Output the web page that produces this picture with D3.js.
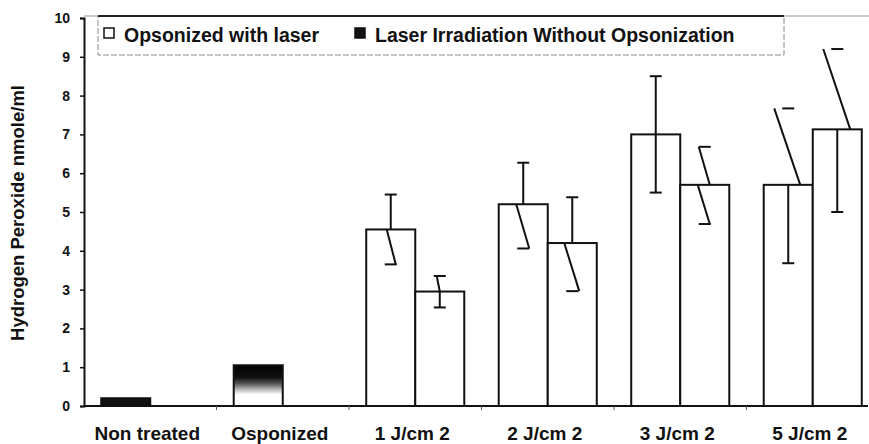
<!DOCTYPE html>
<html>
<head>
<meta charset="utf-8">
<script src="https://cdn.jsdelivr.net/npm/d3@7"></script>
<style>
  body { margin: 0; background: #fff; }
  text { font-family: "Liberation Sans", Arial, sans-serif; font-weight: bold; fill: #111; }
</style>
</head>
<body>
<div id="chart"></div>
<script>
// data
var categories = ["Non treated", "Osponized", "1 J/cm 2", "2 J/cm 2", "3 J/cm 2", "5 J/cm 2"];
var seriesNames = ["Opsonized with laser", "Laser Irradiation Without Opsonization"];
var yTicks = [0, 1, 2, 3, 4, 5, 6, 7, 8, 9, 10];

// control bars (single bar each)
var controlValues = [0.2, 1.05];

// dose groups: 1, 2, 3, 5 J/cm2
var withLaser = [4.55, 5.2, 7.0, 5.7];
var withLaserHigh = [5.45, 6.27, 8.5, 7.67];
var withLaserLow = [3.65, 4.06, 5.5, 3.68];

var withoutOpson = [2.95, 4.2, 5.7, 7.13];
var withoutOpsonHigh = [3.35, 5.38, 6.68, 9.2];
var withoutOpsonLow = [2.54, 2.96, 4.69, 5.0];

// the scanned figure has tilted whiskers; [upper start dx, upper end dx, lower start dx, lower end dx]
var whiskerTilt = [
  [0, 0, -4, 5], [0, -3, 0, 0],
  [0, 0, -7, 6], [0, 0, -8, 7],
  [0, 0, 0, 0], [5, -6, -7, 5],
  [12, -14, 0, 0], [13, -14, 0, 0]
];

var svgWidth = 869, svgHeight = 444;
var svg = d3.select("#chart").append("svg")
  .attr("width", svgWidth)
  .attr("height", svgHeight);

var defs = svg.append("defs");
var grad = defs.append("linearGradient")
  .attr("id", "opsGrad")
  .attr("x1", 0).attr("y1", 0).attr("x2", 0).attr("y2", 1);
[[0, "#000"], [0.3, "#111"], [0.45, "#555"], [0.6, "#bbb"], [0.72, "#fff"], [1, "#fff"]].forEach(s => {
  grad.append("stop").attr("offset", s[0]).attr("stop-color", s[1]);
});

// scales
var x = d3.scaleBand()
  .domain(categories)
  .range([84, 879])
  .paddingInner(0.26)
  .paddingOuter(0.13);

var xSub = d3.scaleBand()
  .domain([0, 1])
  .range([0, x.bandwidth()]);

var y = d3.scaleLinear()
  .domain([0, 10])
  .range([406, 18]);

// top border + legend box
svg.append("line")
  .attr("x1", 84).attr("x2", svgWidth)
  .attr("y1", 16).attr("y2", 16)
  .attr("stroke", "#999").attr("stroke-width", 1);

var legend = svg.append("g").attr("class", "legend");
legend.append("rect")
  .attr("x", 98).attr("y", 16)
  .attr("width", 686).attr("height", 39)
  .attr("fill", "none")
  .attr("stroke", "#888")
  .attr("stroke-dasharray", "6,2")
  .attr("stroke-width", 1);
legend.append("line")
  .attr("x1", 98).attr("x2", 784)
  .attr("y1", 16).attr("y2", 16)
  .attr("stroke", "#222").attr("stroke-width", 2);

var legendX = [104, 355];
seriesNames.forEach((name, i) => {
  legend.append("rect")
    .attr("x", legendX[i]).attr("y", 28)
    .attr("width", 10).attr("height", 10)
    .attr("fill", i === 0 ? "#fff" : "#111")
    .attr("stroke", "#111")
    .attr("stroke-width", 1.5);
  legend.append("text")
    .attr("x", legendX[i] + 20)
    .attr("y", 42)
    .style("font-size", "19.5px")
    .text(name);
});

// y axis
var yAxis = d3.axisLeft(y).tickValues(yTicks).tickSize(4).tickPadding(10);
var yG = svg.append("g")
  .attr("transform", "translate(84,0)")
  .call(yAxis);
yG.select(".domain").attr("stroke", "#111").attr("stroke-width", 2);
yG.selectAll(".tick line").attr("stroke", "#111").attr("stroke-width", 1.5);
yG.selectAll(".tick text").style("font-size", "14px").attr("fill", "#111");

svg.append("text")
  .attr("transform", "translate(24,213) rotate(-90)")
  .attr("text-anchor", "middle")
  .style("font-size", "18.5px")
  .text("Hydrogen Peroxide nmole/ml");

// control bars
var controls = svg.append("g").attr("class", "controls");
controls.selectAll("rect")
  .data(controlValues)
  .enter()
  .append("rect")
  .attr("x", (d, i) => x(categories[i]) + xSub(0))
  .attr("y", d => y(d))
  .attr("width", xSub.bandwidth())
  .attr("height", d => y(0) - y(d))
  .attr("fill", (d, i) => i === 0 ? "#111" : "url(#opsGrad)")
  .attr("stroke", "#111")
  .attr("stroke-width", 2);

// dose bars
var doseData = [];
withLaser.forEach((v, i) => {
  doseData.push({ cat: categories[i + 2], s: 0, v: v, hi: withLaserHigh[i], lo: withLaserLow[i] });
  doseData.push({ cat: categories[i + 2], s: 1, v: withoutOpson[i], hi: withoutOpsonHigh[i], lo: withoutOpsonLow[i] });
});

var bars = svg.append("g").attr("class", "bars");
bars.selectAll("rect")
  .data(doseData)
  .enter()
  .append("rect")
  .attr("x", d => x(d.cat) + xSub(d.s))
  .attr("y", d => y(d.v))
  .attr("width", xSub.bandwidth())
  .attr("height", d => y(0) - y(d.v))
  .attr("fill", "#fff")
  .attr("stroke", "#111")
  .attr("stroke-width", 2);

// error bars
var errG = svg.append("g").attr("class", "errors")
  .attr("stroke", "#111")
  .attr("stroke-width", 2)
  .attr("fill", "none");

doseData.forEach((d, i) => {
  var c = x(d.cat) + xSub(d.s) + xSub.bandwidth() / 2;
  var t = whiskerTilt[i];
  errG.append("line")
    .attr("x1", c + t[0]).attr("y1", y(d.v))
    .attr("x2", c + t[1]).attr("y2", y(d.hi));
  errG.append("line")
    .attr("x1", c - 6).attr("x2", c + 6)
    .attr("y1", y(d.hi)).attr("y2", y(d.hi));
  errG.append("line")
    .attr("x1", c + t[2]).attr("y1", y(d.v))
    .attr("x2", c + t[3]).attr("y2", y(d.lo));
  errG.append("line")
    .attr("x1", c - 6).attr("x2", c + 6)
    .attr("y1", y(d.lo)).attr("y2", y(d.lo));
});

// x axis
var xAxis = d3.axisBottom(x).tickSize(0).tickPadding(20);
var xG = svg.append("g")
  .attr("transform", "translate(0,406)")
  .call(xAxis);
xG.select(".domain").remove();
xG.append("line")
  .attr("x1", 84).attr("x2", 868)
  .attr("stroke", "#111").attr("stroke-width", 2);
xG.selectAll(".tick text")
  .style("font-size", "19px")
  .attr("fill", "#111")
  .attr("dy", "0.75em")
  .attr("dx", -3);

// small boundary ticks between categories
xG.selectAll(".sep")
  .data(categories.slice(1))
  .enter()
  .append("line")
  .attr("class", "sep")
  .attr("x1", d => x(d) - x.step() * x.paddingInner() / 2)
  .attr("x2", d => x(d) - x.step() * x.paddingInner() / 2)
  .attr("y1", 0).attr("y2", 4)
  .attr("stroke", "#555").attr("stroke-width", 1);
</script>
</body>
</html>
